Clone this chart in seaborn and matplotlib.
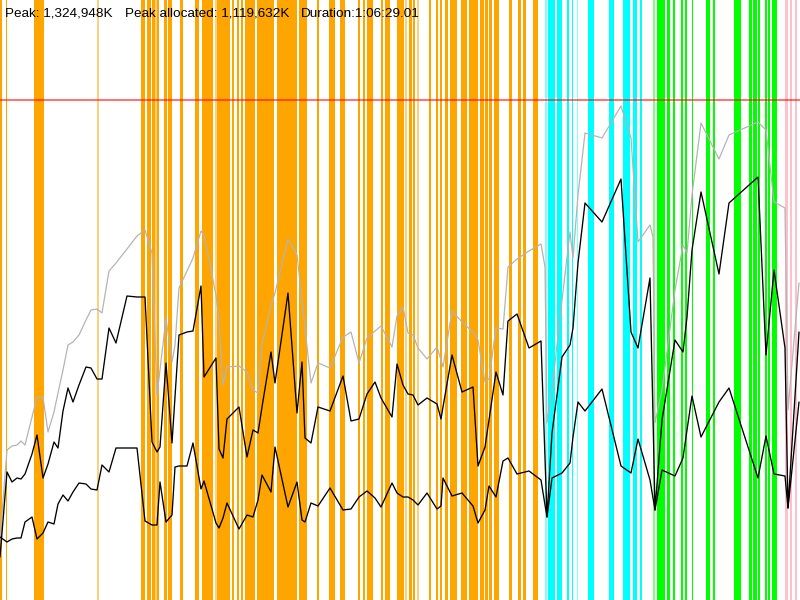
import matplotlib
matplotlib.use("Agg")
import matplotlib.pyplot as plt
import seaborn as sns
import pandas as pd

# sample positions (shared by the three memory curves), screen units 0-800
x = [0, 7, 12, 17, 21, 25, 32, 37, 43, 48,
     54, 58, 63, 68, 73, 79, 86, 91, 97, 102,
     109, 116, 127, 137, 145, 152, 157, 160, 166, 172,
     175, 179, 187, 193, 201, 204, 216, 219, 223, 227,
     239, 247, 253, 258, 262, 271, 275, 288, 297, 302,
     305, 311, 318, 330, 343, 351, 359, 367, 375, 381,
     392, 397, 403, 408, 413, 418, 427, 437, 441, 443,
     452, 462, 473, 478, 485, 489, 496, 503, 508, 517,
     529, 541, 545, 547, 552, 562, 570, 573, 578, 585,
     602, 621, 631, 638, 650, 653, 655, 662, 675, 683,
     687, 692, 701, 719, 729, 758, 766, 774, 785, 788,
     799]

# heap size (grey), used (black) and live (black, lower); screen y, 0 = top
heap = [540, 450, 446, 445, 441, 445, 417, 397, 397, 432,
        412, 393, 370, 345, 342, 335, 320, 310, 309, 313,
        271, 263, 249, 236, 230, 253, 395, 370, 318, 362,
        345, 288, 271, 258, 231, 235, 295, 320, 385, 367,
        366, 372, 390, 393, 345, 305, 293, 239, 255, 300,
        328, 383, 363, 368, 337, 332, 363, 338, 331, 326,
        347, 316, 307, 333, 335, 348, 359, 347, 360, 367,
        311, 322, 332, 340, 382, 379, 328, 329, 267, 259,
        251, 244, 267, 423, 390, 300, 232, 258, 195, 133,
        138, 106, 138, 242, 225, 237, 423, 390, 290, 245,
        253, 195, 123, 159, 135, 122, 130, 202, 208, 410,
        283]

used = [557, 472, 482, 478, 479, 474, 454, 435, 478, 464,
        442, 448, 411, 388, 402, 385, 367, 368, 379, 379,
        328, 343, 296, 297, 297, 442, 452, 447, 363, 443,
        397, 335, 332, 331, 286, 377, 358, 449, 458, 419,
        407, 457, 430, 433, 407, 352, 383, 293, 413, 362,
        438, 443, 407, 411, 376, 421, 419, 394, 382, 398,
        417, 364, 385, 394, 395, 405, 398, 404, 419, 407,
        355, 392, 387, 466, 447, 420, 372, 395, 321, 314,
        348, 341, 458, 517, 433, 357, 345, 328, 263, 203,
        222, 179, 332, 348, 278, 417, 510, 420, 340, 352,
        317, 250, 192, 274, 203, 177, 355, 270, 348, 508,
        332]

live = [537, 542, 539, 538, 538, 522, 517, 539, 533, 522,
        524, 504, 495, 501, 492, 483, 484, 489, 490, 465,
        472, 448, 448, 448, 521, 525, 525, 482, 522, 515,
        467, 466, 466, 443, 489, 481, 523, 528, 518, 503,
        529, 515, 517, 500, 475, 492, 447, 507, 482, 520,
        522, 503, 506, 488, 510, 509, 497, 491, 498, 507,
        483, 493, 497, 497, 500, 505, 493, 509, 506, 478,
        496, 493, 506, 523, 510, 486, 497, 461, 458, 474,
        471, 480, 505, 517, 478, 473, 463, 437, 402, 411,
        389, 466, 473, 439, 480, 498, 510, 470, 476, 458,
        430, 396, 437, 402, 388, 478, 436, 474, 476, 508,
        402]

# gc event bands: start, end, kind
band_start = [0, 5.7, 34, 97, 141, 147, 152, 155, 157, 164, 168, 180, 195, 202,
              215, 217, 232, 237, 241, 245, 257, 277, 299, 317, 329, 340, 358,
              363, 367, 381, 385, 397, 405, 409, 413, 417, 429, 436, 440, 445,
              450, 461, 469, 480, 485, 489, 494, 509, 518, 523, 533,
              545, 548, 557, 567, 572, 577, 588, 609, 623, 633, 640,
              653, 657, 667, 673, 681, 685, 692, 706, 713, 734, 749, 753, 758,
              765, 768, 772,
              785, 790, 795]
band_end = [1.7, 7.3, 44, 99, 145, 151, 155, 157, 159, 167, 172, 183, 199, 213,
            217, 230, 234, 239, 243, 255, 274, 297, 307, 319, 335, 345, 360,
            365, 373, 383, 390, 404, 407, 412, 415, 419, 431, 438, 442, 448,
            457, 467, 478, 484, 488, 492, 499, 512, 521, 526, 538,
            547, 555, 562, 569, 573, 578, 594, 614, 630, 637, 642,
            655, 665, 670, 675, 683, 687, 693, 710, 715, 741, 752, 757, 760,
            767, 770, 777,
            788, 792, 797]
band_kind = (["young"] * 51 + ["mixed"] * 11 + ["full"] * 16 + ["other"] * 3)
light_bands = [97, 155, 215, 405, 417, 545, 577, 653]

kind_colors = {"young": "#ffa500", "mixed": "#00ffff",
               "full": "#00ff00", "other": "#ffc0cb"}

peak_line = 100
stats = ["Peak: 1,324,948K", "Peak allocated: 1,119,632K", "Duration:1:06:29.01"]
stats_x = [5, 125, 301]

sns.set_style("white")

fig = plt.figure(figsize=(8, 6), dpi=100)
ax = fig.add_axes([0, 0, 1, 1])

for s, e, k in zip(band_start, band_end, band_kind):
    a = 0.5 if s in light_bands else 1.0
    ax.axvspan(s, e, color=kind_colors[k], alpha=a, lw=0, zorder=1)

ax.axhline(peak_line, color="red", alpha=0.6, lw=1.3, zorder=2)

df = pd.DataFrame({"x": x, "heap": heap, "used": used, "live": live})
sns.lineplot(data=df, x="x", y="heap", ax=ax, color="#b4b4b4",
             linewidth=0.9, estimator=None, zorder=3)
sns.lineplot(data=df, x="x", y="used", ax=ax, color="black",
             linewidth=0.95, estimator=None, zorder=4)
sns.lineplot(data=df, x="x", y="live", ax=ax, color="black",
             linewidth=0.95, estimator=None, zorder=4)

ax.set_xlim(0, 800)
ax.set_ylim(600, 0)
ax.axis("off")

for s, tx in zip(stats, stats_x):
    ax.text(tx, 17, s, fontsize=9.7, family=["Liberation Sans", "DejaVu Sans"],
            color="black", va="baseline", ha="left", zorder=5)

fig.savefig("out.png", dpi=100)
